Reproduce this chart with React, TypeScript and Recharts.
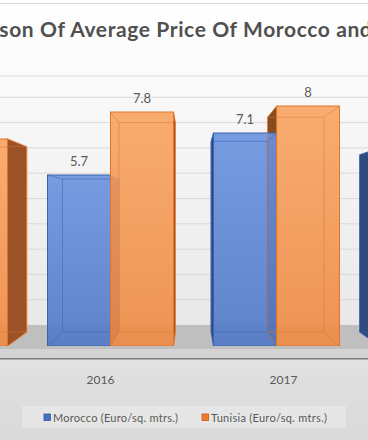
import React from "react";
import {
    BarChart,
    Bar,
    XAxis,
    YAxis,
    CartesianGrid,
    LabelList,
    ReferenceArea,
    ReferenceLine,
    Legend
} from "recharts";

// values (2015 Morocco / 2018 Tunisia are outside the crop)
const years = ["2015", "2016", "2017", "2018"];
const morocco = [null, 5.7, 7.1, 6.6];
const tunisia = [6.9, 7.8, 8, null];
const seriesNames = ["Morocco (Euro/sq. mtrs.)", "Tunisia (Euro/sq. mtrs.)"];
const gridTicks = [1, 2, 3, 4, 5, 6, 7, 8, 9];
const title = "Comparison Of Average Price Of Morocco and Tunisia";

const data = years.map((year, i) => ({ year, morocco: morocco[i], tunisia: tunisia[i] }));

const FONT = "Lato, 'Open Sans', sans-serif";

// the chart is wider than the window and cropped on both sides
const CHART_LEFT = -174.5;
const CHART_W = 732;
const CHART_H = 440;
const LABEL_Y = 384;

// 3d look: back face shrinks toward a vanishing point
const VP_X = 190 - CHART_LEFT;
const VP_Y = 213;
const DEPTH = 0.895;

// back wall axis (gridlines sit further back than the bar fronts)
const WALL_MIN = -0.83;
const WALL_MAX = 9.842;

type BoxOpts = {
    grad: string;
    stroke: string;
    side: string;
    left: boolean;
    right: boolean;
    front: boolean;
};

const makeBox = (o: BoxOpts) => (p: any) => {
    const { x, y, width, height } = p;
    if (width == null || !height) return <g />;
    const x0 = x, x1 = x + width, y0 = y, y1 = y + height;
    const bx = (v: number) => VP_X + DEPTH * (v - VP_X);
    const by = (v: number) => VP_Y + DEPTH * (v - VP_Y);
    const faces: any[] = [];
    if (o.right && x1 < VP_X) {
        faces.push(
            <polygon key="r"
                points={`${x1},${y0} ${bx(x1)},${by(y0)} ${bx(x1)},${by(y1)} ${x1},${y1}`}
                fill={o.side} stroke={o.stroke} strokeWidth={0.8} />
        );
    }
    if (o.left && x0 > VP_X) {
        faces.push(
            <polygon key="l"
                points={`${x0},${y0} ${bx(x0)},${by(y0)} ${bx(x0)},${by(y1)} ${x0},${y1}`}
                fill={o.side} stroke={o.stroke} strokeWidth={0.8} />
        );
    }
    if (!o.front) return <g>{faces}</g>;
    const edges =
        `M${bx(x0)},${by(y0)} H${bx(x1)} V${by(y1)} H${bx(x0)} Z ` +
        `M${x0},${y1} L${bx(x0)},${by(y1)} M${x1},${y1} L${bx(x1)},${by(y1)} ` +
        `M${x0},${y0} L${bx(x0)},${by(y0)} M${x1},${y0} L${bx(x1)},${by(y0)}`;
    return (
        <g>
            {faces}
            <rect x={x0} y={y0} width={width} height={height}
                fill={`url(#${o.grad})`} fillOpacity={0.9} stroke={o.stroke} strokeWidth={1} />
            <path d={edges} fill="none" stroke={o.stroke} strokeOpacity={0.5} strokeWidth={1} />
        </g>
    );
};

const moroccoBox = makeBox({ grad: "gBlue", stroke: "#3a62ad", side: "#2e4a7c", left: true, right: true, front: true });
const tunisiaBox = makeBox({ grad: "gOrange", stroke: "#e0742a", side: "#9a5226", left: false, right: true, front: true });
const tunisiaLeftFace = makeBox({ grad: "gOrange", stroke: "#8a4a1f", side: "#8a4a1f", left: true, right: false, front: false });

const YearTick = (props: any) => (
    <text x={props.x} y={LABEL_Y} textAnchor="middle" fontSize={12} fontFamily={FONT} fill="#595959">
        {props.payload.value}
    </text>
);

const legendX = [22, 180];
const legendLen = [125, 116];

const LegendBox = (props: any) => {
    const items = (props.payload || []).filter((e: any) => seriesNames.includes(e.value));
    return (
        <svg width={324} height={22} style={{ display: "block" }}>
            <rect width={324} height={22} fill="#e6e6e6" />
            {items.map((e: any, i: number) => (
                <g key={e.value}>
                    <rect x={legendX[i]} y={8} width={6.5} height={6.5} fill={e.color}
                        stroke={i === 0 ? "#2f5597" : "#c55a11"} strokeWidth={0.8} />
                    <text x={legendX[i] + 9} y={15.5} fontSize={11} fontFamily={FONT} fill="#595959"
                        textLength={legendLen[i]}>
                        {e.value}
                    </text>
                </g>
            ))}
        </svg>
    );
};

const App = () => {
    return (
        <div style={{
            position: "fixed", left: 0, top: 0, width: 368, height: 440, overflow: "hidden",
            background: "linear-gradient(to bottom, #ffffff 0%, #fcfcfc 12%, #f3f3f3 40%, #e9e9e9 72%, #dfdfdf 85%, #dadada 100%)"
        }}>
            <div style={{ position: "absolute", left: 0, top: 3, width: 368, height: 1, background: "#d6d6d6" }} />
            <div style={{ position: "absolute", left: CHART_LEFT, top: 0 }}>
                <BarChart width={CHART_W} height={CHART_H} data={data} barGap={0}
                    margin={{ top: 76, right: 0, bottom: 64, left: 0 }}>
                    <defs>
                        <linearGradient id="gBlue" x1="0" y1="0" x2="0" y2="1">
                            <stop offset="0%" stopColor="#6a92de" />
                            <stop offset="100%" stopColor="#5078c8" />
                        </linearGradient>
                        <linearGradient id="gOrange" x1="0" y1="0" x2="0" y2="1">
                            <stop offset="0%" stopColor="#f9a462" />
                            <stop offset="100%" stopColor="#ee8a44" />
                        </linearGradient>
                    </defs>
                    <XAxis xAxisId="labels" dataKey="year" axisLine={false} tickLine={false}
                        height={30} interval={0} tick={<YearTick />} />
                    <XAxis xAxisId="bars" dataKey="year" hide padding={{ left: 35.5, right: 32.5 }} />
                    <XAxis xAxisId="tside" dataKey="year" hide padding={{ left: 67, right: 1 }} />
                    <YAxis yAxisId="front" hide type="number" domain={[0, 9]} allowDataOverflow />
                    <YAxis yAxisId="wall" hide type="number" domain={[WALL_MIN, WALL_MAX]}
                        ticks={gridTicks} allowDataOverflow />
                    <CartesianGrid xAxisId="labels" yAxisId="wall" vertical={false} stroke="#d9d9d9" />
                    <ReferenceArea xAxisId="labels" yAxisId="wall" y1={-0.949} y2={0}
                        fill="#bfbfbf" fillOpacity={1} stroke="none" ifOverflow="visible" />
                    <ReferenceArea xAxisId="labels" yAxisId="wall" y1={-1.304} y2={-0.949}
                        fill="#d3d3d3" fillOpacity={1} stroke="none" ifOverflow="visible" />
                    <ReferenceLine xAxisId="labels" yAxisId="wall" y={-1.33}
                        stroke="#7a7a7a" strokeWidth={1.5} ifOverflow="visible" />
                    <Bar xAxisId="tside" yAxisId="front" dataKey="tunisia" barSize={63}
                        legendType="none" isAnimationActive={false} shape={tunisiaLeftFace} />
                    <Bar xAxisId="bars" yAxisId="front" dataKey="morocco" name={seriesNames[0]}
                        fill="#4472c4" barSize={63} isAnimationActive={false} shape={moroccoBox}>
                        <LabelList dataKey="morocco" position="top" offset={9}
                            fill="#595959" fontSize={13} fontFamily={FONT} />
                    </Bar>
                    <Bar xAxisId="bars" yAxisId="front" dataKey="tunisia" name={seriesNames[1]}
                        fill="#ed7d31" barSize={63} isAnimationActive={false} shape={tunisiaBox}>
                        <LabelList dataKey="tunisia" position="top" offset={9}
                            fill="#595959" fontSize={13} fontFamily={FONT} />
                    </Bar>
                    <Legend layout="vertical" verticalAlign="middle" align="center"
                        content={<LegendBox />}
                        wrapperStyle={{ left: 22 - CHART_LEFT, top: 406, width: 324, height: 22 }} />
                </BarChart>
            </div>
            <svg width={368} height={60} style={{ position: "absolute", left: 0, top: 0, overflow: "visible" }}>
                <text x={181} y={37} textAnchor="middle" fontFamily={FONT} fontWeight={700}
                    fontSize={21} fill="#505050" textLength={530}>
                    {title}
                </text>
            </svg>
        </div>
    );
};

export default App;
